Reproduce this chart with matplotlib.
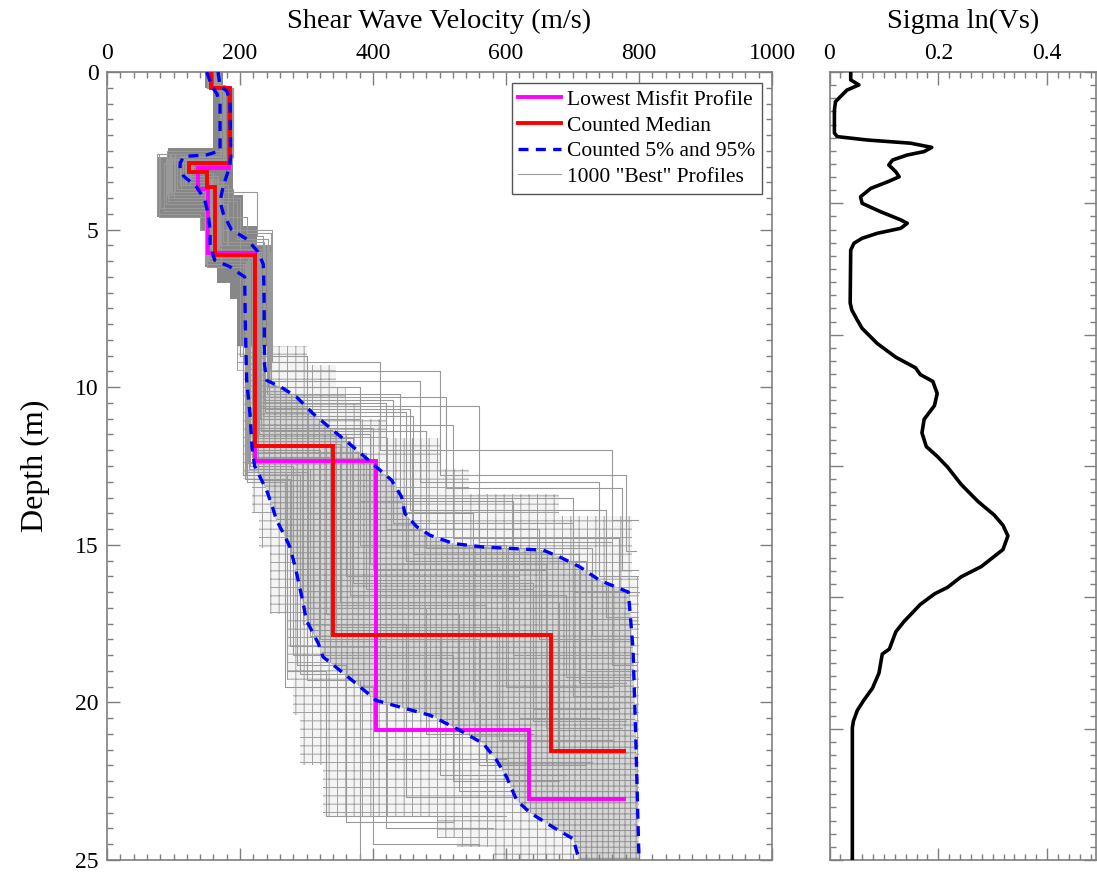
import numpy as np
import matplotlib
matplotlib.use("Agg")
import matplotlib.pyplot as plt
from matplotlib.ticker import MultipleLocator

plt.rcParams['font.family'] = ['Liberation Serif', 'DejaVu Serif']
plt.rcParams['hatch.linewidth'] = 0.7

# ---------------- data ----------------
# Lowest misfit profile (layer bottoms in m, velocities in m/s; last velocity = half-space)
misfit_bottoms = [0.5, 3.05, 3.7, 5.75, 12.34, 20.89, 23.05]
misfit_vels = [158, 183, 137, 152, 222, 405, 635, 777]

# Counted median profile
median_bottoms = [0.5, 2.9, 3.16, 3.64, 5.81, 11.86, 17.87, 21.55]
median_vels = [157, 185, 123, 150, 162, 222, 340, 667, 777]

# Counted 5% curve
p5_depth = [0, 0.47, 0.68, 1.0, 2.5, 2.63, 2.68, 2.9, 3.1, 3.3, 3.65, 4.06, 4.49, 5.0, 5.5,
            5.97, 6.18, 6.29, 6.5, 8.0, 9.78, 10.84, 11.89, 12.5, 13.27, 13.75, 14.22, 14.75,
            15.07, 15.70, 16.66, 17.40, 18.14, 18.56, 18.98, 19.41, 19.94, 20.15, 20.41, 20.89,
            21.31, 21.84, 22.37, 23.1, 23.5, 23.96, 24.33, 25.0]
p5_vel = [150, 158, 165, 170, 170, 150, 115, 110, 110, 115, 135, 147, 152, 155, 155,
          162, 185, 192, 207, 208, 210, 215, 218, 222, 240, 248, 255, 268,
          275, 283, 293, 300, 318, 325, 350, 375, 405, 441, 486, 531,
          566, 586, 601, 616, 636, 671, 701, 710]

# Counted 95% curve
p95_depth = [0, 0.45, 0.6, 0.9, 2.7, 3.1, 3.6, 4.1, 4.5, 5.0, 5.3, 5.7, 6.1, 6.8, 9.3, 9.78,
             10.04, 10.31, 10.84, 11.37, 11.89, 12.53, 12.95, 13.48, 14.01, 14.43, 14.70,
             14.96, 15.07, 15.17, 15.39, 15.70, 16.13, 16.50, 18.3, 21.0, 25.0]
p95_vel = [167, 170, 180, 185, 186, 183, 175, 170, 175, 187, 210, 227, 235, 236, 237, 240,
           265, 285, 310, 340, 370, 405, 428, 443, 448, 466, 486,
           521, 566, 656, 681, 711, 741, 784, 791, 795, 800]

# Envelope of the 1000 "best" profiles (step boundaries: layer bottoms and velocities)
env_min_bottoms = [0.5, 2.4, 2.7, 4.6, 5.0, 6.2, 6.7, 7.2, 9.5, 12.9, 14.0, 15.1, 17.2, 19.3,
                   20.4, 22.0, 23.6, 24.3, 24.6, 25.0]
env_min_vels = [148, 160, 92, 75, 140, 148, 165, 185, 195, 205, 218, 228, 245, 270,
                280, 290, 325, 496, 526, 581]
env_max_bottoms = [0.5, 3.9, 4.9, 5.5, 8.7, 9.3, 10.0, 10.5, 11.0, 11.6, 12.6, 13.4, 14.1,
                   16.0, 25.0]
env_max_vels = [175, 190, 205, 225, 248, 300, 345, 360, 380, 420, 500, 545, 680, 790, 800]

# A selection of individual "best" profiles (layer bottoms, velocities incl. half-space)
best_bottoms = [
    [0.5, 2.7, 3.2, 5.8, 11.9, 17.8, 21.5],
    [0.5, 2.6, 4.5, 5.0, 9.0, 14.0, 20.0],
    [0.6, 2.8, 3.6, 5.5, 10.2, 13.5, 16.5],
    [0.4, 2.5, 3.9, 6.0, 12.5, 18.5, 22.5],
    [0.5, 2.9, 3.4, 5.9, 11.0, 15.0, 19.5],
    [0.5, 2.7, 4.0, 5.7, 9.5, 12.8, 15.2],
    [0.45, 2.8, 3.3, 6.1, 12.8, 19.0, 23.6],
    [0.5, 2.6, 3.8, 5.2, 10.5, 14.5, 18.0],
    [0.55, 3.0, 3.5, 5.6, 11.5, 16.0, 20.5],
    [0.5, 2.7, 4.3, 5.9, 12.2, 17.0, 21.0],
    [0.5, 2.8, 3.7, 5.0, 9.2, 12.0, 14.2],
    [0.5, 2.65, 3.3, 6.2, 13.0, 19.5, 24.5],
    [0.5, 2.9, 3.6, 5.8, 11.8, 16.8, 21.6],
    [0.5, 2.75, 4.2, 5.5, 10.8, 15.5, 19.0],
    [0.5, 2.8, 3.4, 5.7, 12.0, 18.0, 22.0],
    [0.5, 2.7, 3.9, 6.0, 11.2, 14.8, 17.5],
    [0.5, 2.85, 3.2, 5.9, 12.4, 17.5, 23.0],
    [0.5, 2.6, 4.6, 5.1, 9.8, 13.0, 16.0],
    [0.5, 2.9, 3.5, 5.8, 11.6, 16.2, 20.2],
    [0.5, 2.7, 3.3, 5.6, 12.6, 18.8, 23.8],
    [0.5, 2.8, 4.1, 5.3, 10.0, 13.6, 18.5],
    [0.5, 2.75, 3.6, 5.9, 11.9, 17.2, 22.8],
    [0.5, 2.9, 3.4, 5.7, 11.3, 15.8, 20.8],
    [0.5, 2.6, 3.8, 6.1, 12.9, 18.2, 21.8],
    [0.5, 2.8, 3.5, 5.4, 10.4, 14.3, 19.8],
    [0.5, 2.7, 3.3, 5.8, 12.3, 17.6, 21.2],
    [0.5, 2.9, 4.4, 6.0, 12.7, 19.3, 25.5],
    [0.5, 2.8, 3.6, 5.6, 10.9, 15.3, 19.4],
    [0.5, 2.8, 3.5, 5.8, 10.6, 14.9, 18.8],
    [0.5, 2.7, 3.4, 5.9, 12.1, 16.4, 20.6],
    [0.5, 2.9, 3.7, 5.7, 11.4, 15.1, 17.9],
    [0.5, 2.6, 3.9, 6.0, 12.6, 17.9, 22.3],
    [0.5, 2.8, 3.3, 5.6, 11.7, 16.6, 19.2],
    [0.5, 2.75, 3.6, 5.8, 12.2, 16.9, 21.9],
    [0.5, 2.85, 3.5, 5.7, 10.7, 13.9, 17.3],
    [0.5, 2.7, 4.0, 6.0, 12.8, 19.1, 24.0],
    [0.5, 2.8, 3.4, 5.9, 11.5, 15.6, 20.0],
    [0.5, 2.9, 3.6, 5.5, 10.3, 13.2, 15.8],
]
best_vels = [
    [160, 185, 123, 160, 222, 340, 665, 777],
    [150, 170, 75, 140, 200, 300, 550, 790],
    [165, 188, 110, 170, 240, 440, 700, 800],
    [155, 178, 90, 150, 215, 280, 520, 680],
    [160, 186, 130, 165, 230, 380, 600, 760],
    [170, 190, 100, 200, 245, 500, 780, 795],
    [150, 175, 115, 148, 205, 270, 330, 600],
    [162, 182, 95, 225, 235, 420, 650, 790],
    [158, 184, 120, 158, 228, 360, 620, 740],
    [165, 183, 80, 162, 218, 310, 480, 640],
    [168, 188, 105, 190, 248, 410, 760, 798],
    [152, 172, 110, 150, 210, 268, 400, 560],
    [160, 186, 125, 162, 224, 350, 680, 780],
    [164, 187, 88, 180, 238, 450, 720, 795],
    [158, 180, 118, 155, 220, 320, 560, 720],
    [166, 189, 98, 172, 232, 520, 770, 800],
    [156, 178, 128, 152, 212, 295, 450, 630],
    [170, 190, 78, 210, 247, 470, 740, 798],
    [161, 185, 122, 163, 226, 370, 640, 770],
    [154, 176, 112, 156, 214, 285, 360, 520],
    [167, 187, 92, 195, 242, 380, 610, 785],
    [159, 183, 117, 161, 221, 330, 530, 700],
    [163, 186, 126, 166, 229, 400, 660, 775],
    [151, 174, 102, 149, 208, 275, 420, 600],
    [163, 185, 120, 175, 236, 430, 700, 790],
    [158, 182, 124, 159, 219, 345, 590, 760],
    [157, 181, 85, 154, 211, 300, 380, 500],
    [162, 186, 115, 168, 234, 460, 710, 780],
    [160, 184, 118, 160, 230, 560, 760, 795],
    [158, 182, 121, 158, 220, 390, 640, 780],
    [162, 186, 112, 164, 231, 480, 730, 790],
    [153, 175, 96, 151, 213, 305, 500, 690],
    [164, 187, 124, 167, 227, 365, 690, 785],
    [159, 183, 119, 160, 219, 335, 570, 730],
    [163, 186, 121, 171, 237, 455, 750, 798],
    [155, 177, 93, 152, 209, 290, 420, 580],
    [161, 185, 123, 163, 225, 395, 660, 770],
    [166, 188, 114, 182, 243, 510, 775, 799],
]

# Sigma ln(Vs) curve (depth axis of right panel spans 0-30)
sig_depth = [0.0, 0.30, 0.49, 0.69, 0.94, 1.13, 1.45, 2.32, 2.46, 2.59, 2.71, 2.87, 3.03, 3.16,
             3.35, 3.54, 3.80, 3.99, 4.18, 4.43, 4.75, 5.00, 5.32, 5.63, 5.76, 5.95, 6.14, 6.33,
             6.52, 6.78, 8.79, 9.06, 9.44, 9.76, 10.34, 10.86, 11.26, 11.52, 11.78, 12.24, 12.70,
             13.22, 13.74, 14.26, 14.65, 15.04, 15.70, 16.35, 16.87, 17.26, 17.66, 18.18, 18.44,
             18.83, 19.22, 19.62, 19.87, 20.27, 20.92, 21.31, 21.97, 22.16, 22.88, 23.46, 23.92,
             24.31, 24.71, 24.97, 30.0]
sig_vals = [0.039, 0.039, 0.054, 0.032, 0.020, 0.011, 0.009, 0.009, 0.014, 0.070, 0.149, 0.188,
            0.174, 0.143, 0.116, 0.109, 0.122, 0.128, 0.107, 0.076, 0.057, 0.060, 0.094, 0.131,
            0.143, 0.131, 0.088, 0.060, 0.045, 0.039, 0.038, 0.041, 0.051, 0.060, 0.088, 0.122,
            0.158, 0.167, 0.190, 0.198, 0.193, 0.174, 0.170, 0.178, 0.199, 0.217, 0.242, 0.273,
            0.303, 0.319, 0.328, 0.319, 0.303, 0.279, 0.242, 0.217, 0.193, 0.167, 0.137, 0.122,
            0.110, 0.097, 0.091, 0.079, 0.063, 0.051, 0.044, 0.042, 0.042]

vel_ticks = [0, 200, 400, 600, 800, 1000]
depth_ticks = [0, 5, 10, 15, 20, 25]
sig_ticks = [0, 0.2, 0.4]
sig_tick_labels = ['0', '0.2', '0.4']


# ---------------- helpers ----------------
def layer_steps(bottoms, vels, cut=None):
    xs, ys = [], []
    top = 0.0
    for b, v in zip(bottoms, vels):
        if cut is not None:
            if top >= cut:
                break
            b = min(b, cut)
        xs += [v, v]
        ys += [top, b]
        top = b
    return xs, ys


def profile_xy(bottoms, vels):
    xs, ys = layer_steps(bottoms, vels[:-1])
    xs.append(vels[-1])
    ys.append(ys[-1])
    return xs, ys


# ---------------- figure ----------------
W, H = 1097, 873
fig = plt.figure(figsize=(W / 100, H / 100), dpi=100)
ax1 = fig.add_axes([107 / W, 1 - 860 / H, (772 - 107) / W, (860 - 72) / H])
ax2 = fig.add_axes([829.5 / W, 1 - 860 / H, (1096 - 829.5) / W, (860 - 72) / H])

grey_ax = '#7f7f7f'

# envelope of best profiles (mesh of many overlapping step profiles)
xmin, ymin = layer_steps(env_min_bottoms, env_min_vels)
xmax, ymax = layer_steps(env_max_bottoms, env_max_vels)
ax1.fill(xmin + xmax[::-1], ymin + ymax[::-1], facecolor='#f4f4f4', edgecolor='#a0a0a0',
         hatch='++', linewidth=0, zorder=1)
# dense inner band (5%-95%)
ax1.fill(p5_vel + p95_vel[::-1], p5_depth + p95_depth[::-1], facecolor='#d6d6d6',
         edgecolor='#919191', hatch='+++', linewidth=0, zorder=1.1)
# dense shallow part
sxmin, symin = layer_steps(env_min_bottoms, env_min_vels, cut=8.7)
sxmax, symax = layer_steps(env_max_bottoms, env_max_vels, cut=8.7)
ax1.fill(sxmin + sxmax[::-1], symin + symax[::-1], facecolor='#878787',
         edgecolor='none', zorder=1.2)

for i, (bb, vv) in enumerate(zip(best_bottoms, best_vels)):
    px, py = profile_xy(bb, vv)
    ax1.plot(px, py, color='#999999', lw=0.8, zorder=2)
l_grey = ax1.lines[0]

mx, my = profile_xy(misfit_bottoms, misfit_vels)
l_mis, = ax1.plot(mx, my, color='#ff00ff', lw=2.8, zorder=3, solid_joinstyle='miter')
rx, ry = profile_xy(median_bottoms, median_vels)
l_med, = ax1.plot(rx, ry, color='#ff0000', lw=2.8, zorder=3.5, solid_joinstyle='miter')
l_p5, = ax1.plot(p5_vel, p5_depth, color='#0000ff', lw=2.4, ls=(0, (3, 2.2)), zorder=4)
ax1.plot(p95_vel, p95_depth, color='#0000ff', lw=2.4, ls=(0, (3, 2.2)), zorder=4)

leg = ax1.legend([l_mis, l_med, l_p5, l_grey],
                 ['Lowest Misfit Profile', 'Counted Median', 'Counted 5% and 95%',
                  '1000 "Best" Profiles'],
                 loc='upper right', bbox_to_anchor=(762 / W, 1 - 83 / H),
                 bbox_transform=fig.transFigure, borderaxespad=0,
                 fontsize=15.5, frameon=True, fancybox=False, framealpha=1,
                 edgecolor='#555555', handlelength=2.0, handletextpad=0.25,
                 labelspacing=0.26, borderpad=0.32)
leg.get_frame().set_linewidth(1.0)
leg.set_zorder(10)

ax1.set_xlim(0, 1000)
ax1.set_ylim(25, 0)
ax1.set_xticks(vel_ticks)
ax1.set_yticks(depth_ticks)
ax1.xaxis.set_minor_locator(MultipleLocator(20))
ax1.yaxis.set_minor_locator(MultipleLocator(0.5))
ax1.xaxis.set_label_position('top')
ax1.set_xlabel('Shear Wave Velocity (m/s)', fontsize=20.5, labelpad=10.5)
ax1.set_ylabel('Depth (m)', fontsize=23, labelpad=18)

ax2.plot(sig_vals, sig_depth, color='black', lw=2.6, zorder=3)
ax2.set_xlim(0, 0.49)
ax2.set_ylim(30, 0)
ax2.set_xticks(sig_ticks)
ax2.set_xticklabels(sig_tick_labels)
ax2.set_yticks([0, 5, 10, 15, 20, 25, 30])
ax2.xaxis.set_minor_locator(MultipleLocator(0.02))
ax2.yaxis.set_minor_locator(MultipleLocator(0.5))
ax2.xaxis.set_label_position('top')
ax2.set_xlabel('Sigma ln(Vs)', fontsize=20.5, labelpad=10.5)

for ax in (ax1, ax2):
    ax.tick_params(which='both', direction='in', top=True, bottom=True, left=True,
                   right=True, labeltop=True, labelbottom=False, color=grey_ax,
                   width=1.0)
    ax.tick_params(which='major', length=9, labelsize=17, pad=6)
    ax.tick_params(which='minor', length=4.5)
    for s in ax.spines.values():
        s.set_color(grey_ax)
        s.set_linewidth(1.2)
ax2.tick_params(labelleft=False)

fig.savefig('out.png', dpi=100)
